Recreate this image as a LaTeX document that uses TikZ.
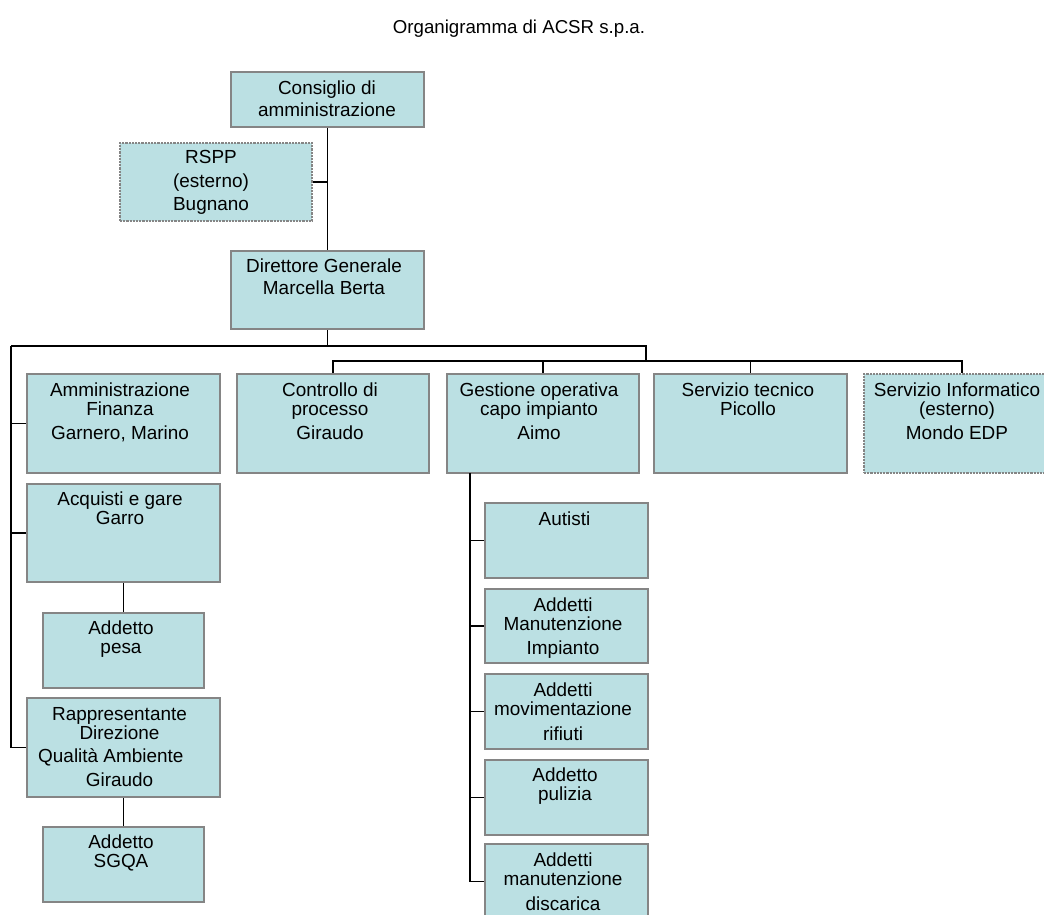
\documentclass[tikz,border=0pt]{standalone}
\usepackage{fontspec}
\setmainfont{Liberation Sans}
\usetikzlibrary{fit}
\definecolor{boxfill}{HTML}{BBE0E3}
\definecolor{boxline}{HTML}{858585}
\newcommand\fl{\rule{0pt}{11pt}}
\begin{document}
\begin{tikzpicture}[x=0.75pt,y=-0.75pt,
  box/.style={draw=boxline, fill=boxfill, line width=1.5pt, inner sep=0pt},
  extbox/.style={box, dash pattern=on 1.6pt off 0.8pt, line width=1.1pt},
  txt/.style={inner sep=0pt, anchor=north, align=center, font=\fontsize{14.2}{14.25}\selectfont},
  txtwide/.style={txt, font=\fontsize{14.2}{16.3}\selectfont},
  txtrspp/.style={txt, font=\fontsize{14.2}{17.6}\selectfont},
  conn/.style={draw=black, line width=1.4pt}]
\clip (0,0) rectangle (1044,914);
\fill[white] (0,0) rectangle (1044,914);

% title
\node[inner sep=0pt, anchor=base, font=\fontsize{14}{16}\selectfont] (title) at (519,33) {Organigramma di ACSR s.p.a.};

% boxes
\node[box, fit={(231,72)(424,127)}] (cda) {};
\node[extbox, fit={(120,143)(312,221)}] (rspp) {};
\node[box, fit={(231,251)(424,329)}] (dg) {};
\node[box, fit={(27,374)(220,473)}] (amm) {};
\node[box, fit={(237,374)(429,473)}] (ctrl) {};
\node[box, fit={(447,374)(639,473)}] (gest) {};
\node[box, fit={(654,374)(847,473)}] (st) {};
\node[extbox, fit={(864,374)(1060,473)}] (inf) {};
\node[box, fit={(27,484)(220,582)}] (acq) {};
\node[box, fit={(43,613)(204,688)}] (pesa) {};
\node[box, fit={(27,698)(220,797)}] (rap) {};
\node[box, fit={(43,827)(204,902)}] (sgqa) {};
\node[box, fit={(485,503)(648,578)}] (aut) {};
\node[box, fit={(485,589)(648,663)}] (man) {};
\node[box, fit={(485,674)(648,749)}] (mov) {};
\node[box, fit={(485,760)(648,835)}] (pul) {};
\node[box, fit={(485,844)(648,919)}] (dis) {};

% texts
\node[txtwide] (cda-t) at (327,80) {\fl Consiglio di\\amministrazione};
\node[txtrspp] (rspp-t) at (211,148.7) {\fl RSPP\\(esterno)\\Bugnano};
\node[txtwide] (dg-t) at (324,258) {\fl Direttore Generale\\Marcella Berta};
\node[txt] (amm-t) at (120,382) {\fl Amministrazione\\Finanza\\[3.75pt]Garnero, Marino};
\node[txt] (ctrl-t) at (330,382) {\fl Controllo di\\processo\\[3.75pt]Giraudo};
\node[txt] (gest-t) at (539,382) {\fl Gestione operativa\\capo impianto\\[3.75pt]Aimo};
\node[txt] (st-t) at (748,382) {\fl Servizio tecnico\\Picollo};
\node[txt] (inf-t) at (957,382) {\fl Servizio Informatico\\(esterno)\\[3.75pt]Mondo EDP};
\node[txt] (acq-t) at (120,491) {\fl Acquisti e gare\\Garro};
\node[txt] (pesa-t) at (121,619.7) {\fl Addetto\\pesa};
\node[txt] (rap-t) at (119.5,705.3) {\fl Rappresentante\\Direzione\\[3.3pt]Qualità Ambiente\rule{13pt}{0pt}\\[3.3pt]Giraudo};
\node[txt] (sgqa-t) at (121,833.7) {\fl Addetto\\SGQA};
\node[txt] (aut-t) at (564.5,510.3) {\fl Autisti};
\node[txt] (man-t) at (563,596.3) {\fl Addetti\\Manutenzione\\[4pt]Impianto};
\node[txt] (mov-t) at (563,682) {\fl Addetti\\movimentazione\\[4pt]rifiuti};
\node[txt] (pul-t) at (565,767) {\fl Addetto\\pulizia};
\node[txt] (dis-t) at (563,852) {\fl Addetti\\manutenzione\\[4pt]discarica};

% bus coordinates
\coordinate (busL) at (11,346);
\coordinate (busR) at (646,361);
\coordinate (gv) at (470,473);

% connectors
\draw[conn] (cda.south) -- (dg.north);
\draw[conn] (rspp.east) -- (rspp.east -| cda.south);
\draw[conn] (dg.south) |- (busL);
\draw[conn] (busL) -| (busR);
\draw[conn] (busL) |- (amm.west);
\draw[conn] (busL) |- (acq.west);
\draw[conn] (busL) |- (rap.west);
\draw[conn] (ctrl.north) |- (busR) -| (inf.north);
\draw[conn] (gest.north) -- (gest.north |- busR);
\draw[conn] (st.north) -- (st.north |- busR);
\draw[conn] (acq.south) -- (pesa.north);
\draw[conn] (rap.south) -- (sgqa.north);
\draw[conn] (gv) |- (aut.west);
\draw[conn] (gv) |- (man.west);
\draw[conn] (gv) |- (mov.west);
\draw[conn] (gv) |- (pul.west);
\draw[conn] (gv) |- (dis.west);
\end{tikzpicture}
\end{document}
